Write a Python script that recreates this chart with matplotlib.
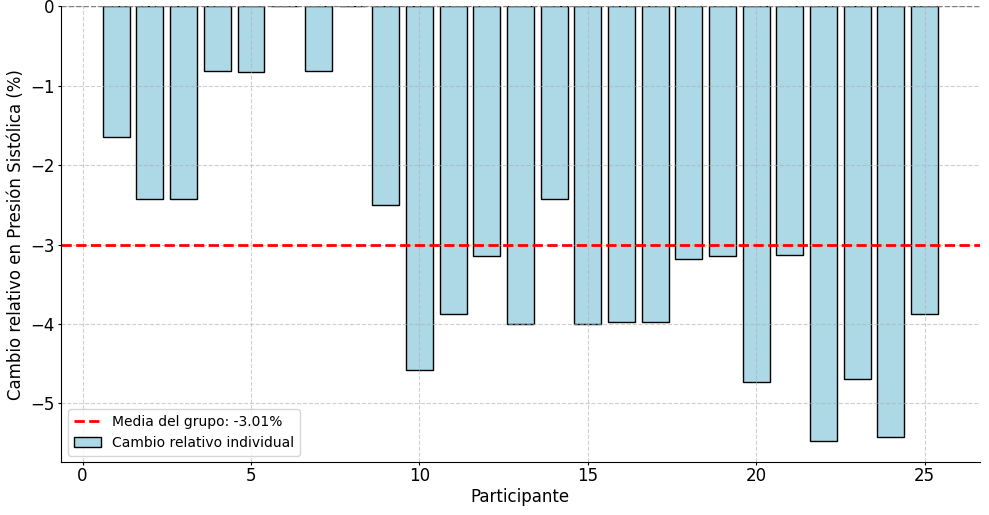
import matplotlib
matplotlib.use("Agg")
import matplotlib.pyplot as plt

participantes = list(range(1, 26))
cambio_relativo = [-1.65, -2.43, -2.43, -0.82, -0.83, 0.0, -0.82, 0.0, -2.50, -4.58,
                   -3.87, -3.15, -4.00, -2.43, -4.00, -3.97, -3.97, -3.18, -3.15, -4.73,
                   -3.13, -5.47, -4.69, -5.42, -3.87]
media_grupo = -3.01

fig = plt.figure(figsize=(9.89, 5.15), dpi=100)
ax = fig.add_axes([0.0617, 0.102, 0.929, 0.886])

ax.bar(participantes, cambio_relativo, color='lightblue', edgecolor='black',
       label='Cambio relativo individual')
ax.axhline(0, color='gray', linestyle='--', linewidth=1)
ax.axhline(media_grupo, color='red', linestyle='--', linewidth=2,
           label=f'Media del grupo: {media_grupo:.2f}%')

ax.set_xlabel('Participante', fontsize=12, labelpad=2)
ax.set_ylabel('Cambio relativo en Presión Sistólica (%)', fontsize=12)
ax.tick_params(labelsize=12, length=2.5)
ax.tick_params(axis='x', pad=1)
ax.tick_params(axis='y', pad=2)
ax.grid(True, linestyle='--', alpha=0.6)
ax.spines['top'].set_visible(False)
ax.spines['right'].set_visible(False)
ax.legend(loc='lower left', fontsize=10)

fig.savefig('out.png', dpi=100)
